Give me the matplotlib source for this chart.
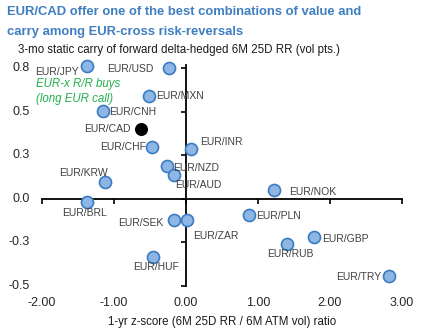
import matplotlib
matplotlib.use("Agg")
import matplotlib.pyplot as plt
import matplotlib.transforms as mtransforms

plt.rcParams['font.family'] = ['Liberation Sans', 'DejaVu Sans']

# ---- data ----
pairs = ["EUR/JPY", "EUR/USD", "EUR/MXN", "EUR/CNH", "EUR/CHF", "EUR/INR",
         "EUR/NZD", "EUR/AUD", "EUR/KRW", "EUR/BRL", "EUR/SEK", "EUR/ZAR",
         "EUR/HUF", "EUR/NOK", "EUR/PLN", "EUR/GBP", "EUR/RUB", "EUR/TRY"]
zscore = [-1.37, -0.235, -0.51, -1.145, -0.467, 0.079,
          -0.26, -0.166, -1.12, -1.375, -0.166, 0.018,
          -0.46, 1.223, 0.873, 1.777, 1.403, 2.825]
carry = [0.764, 0.755, 0.594, 0.506, 0.30, 0.29,
         0.19, 0.138, 0.10, -0.019, -0.119, -0.119,
         -0.333, 0.052, -0.09, -0.22, -0.26, -0.443]
highlight_pair = "EUR/CAD"
highlight_x = -0.62
highlight_y = 0.40

xticks = [-2, -1, 0, 1, 2, 3]
xtick_labels = ["-2.00", "-1.00", "0.00", "1.00", "2.00", "3.00"]
yticks = [0.75, 0.5, 0.25, 0.0, -0.25, -0.5]
ytick_labels = ["0.8", "0.5", "0.3", "0.0", "-0.3", "-0.5"]

title_lines = ["EUR/CAD offer one of the best combinations of value and",
               "carry among EUR-cross risk-reversals"]
subtitle = "3-mo static carry of forward delta-hedged 6M 25D RR (vol pts.)"
xlabel = "1-yr z-score (6M 25D RR / 6M ATM vol) ratio"
note = "EUR-x R/R buys\n(long EUR call)"

# ---- label placement (offset pixels, ha) ----
label_pos = {
    "EUR/JPY": (-8, -5.7, "right"), "EUR/USD": (-15.7, -1.6, "right"),
    "EUR/MXN": (7.4, 0, "left"), "EUR/CNH": (5.5, -0.7, "left"),
    "EUR/CHF": (-5.6, -0.6, "right"), "EUR/INR": (9, 6.6, "left"),
    "EUR/NZD": (6, -1.6, "left"), "EUR/AUD": (1, -10, "left"),
    "EUR/KRW": (3, 9, "right"), "EUR/BRL": (-1.7, -11, "center"),
    "EUR/SEK": (-10, -3.6, "right"), "EUR/ZAR": (5.7, -16, "left"),
    "EUR/HUF": (3, -10.3, "center"), "EUR/NOK": (15.7, -2, "left"),
    "EUR/PLN": (7.7, -1, "left"), "EUR/GBP": (8.4, -1.7, "left"),
    "EUR/RUB": (3, -10, "center"), "EUR/TRY": (-8, -0.7, "right"),
}

W, H = 437, 335
fig = plt.figure(figsize=(W / 100, H / 100), dpi=100)
ax = fig.add_axes([41.6 / W, 1 - 286 / H, (402 - 41.6) / W, (286 - 65) / H])
ax.set_xlim(-2, 3)
ax.set_ylim(-0.5, 0.77)

for s in ["top", "right"]:
    ax.spines[s].set_visible(False)
ax.spines["left"].set_position(("data", 0))
ax.spines["bottom"].set_position(("data", 0))
for s in ["left", "bottom"]:
    ax.spines[s].set_linewidth(1.3)
    ax.spines[s].set_color("black")
ax.set_xticks(xticks)
ax.set_yticks(yticks)
ax.tick_params(axis="both", direction="out", length=3.5, width=1.2,
               labelleft=False, labelbottom=False, color="black")

ax.scatter(zscore, carry, s=75, facecolor="#8DB6E4", edgecolor="#3B7CC2",
           linewidth=1.2, zorder=3, clip_on=False)
ax.scatter([highlight_x], [highlight_y], s=70, color="black", zorder=3)

lab_color = "#404040"
for name, x, y in zip(pairs, zscore, carry):
    dx, dy, ha = label_pos[name]
    ax.annotate(name, (x, y), xytext=(dx, dy), textcoords="offset pixels",
                ha=ha, va="center", fontsize=7.5, color=lab_color)
ax.annotate(highlight_pair, (highlight_x, highlight_y), xytext=(-10.3, 0.3),
            textcoords="offset pixels", ha="right", va="center",
            fontsize=7.5, color=lab_color)

# tick labels placed at the frame edges
ty = mtransforms.blended_transform_factory(fig.transFigure, ax.transData)
for v, t in zip(yticks, ytick_labels):
    fig.text(30 / W, v, t, transform=ty, ha="right", va="center",
             fontsize=9, color="#262626")
tx = mtransforms.blended_transform_factory(ax.transData, fig.transFigure)
for v, t in zip(xticks, xtick_labels):
    fig.text(v, 1 - 302.5 / H, t, transform=tx, ha="center",
             va="center", fontsize=9, color="#262626")

fig.text(7 / W, 1 - 12 / H, title_lines[0], ha="left", va="center",
         fontsize=9.4, fontweight="bold", color="#3F7EC1")
fig.text(7 / W, 1 - 32 / H, title_lines[1], ha="left", va="center",
         fontsize=9.4, fontweight="bold", color="#3F7EC1")
fig.text(18 / W, 1 - 50 / H, subtitle, ha="left", va="center",
         fontsize=8.3, color="#1a1a1a")
fig.text(222 / W, 1 - 322 / H, xlabel, ha="center", va="center",
         fontsize=8.3, color="#1a1a1a")
fig.text(36 / W, 1 - 91.5 / H, note, ha="left", va="center",
         fontsize=8.3, style="italic", color="#21B04B", linespacing=1.25)

fig.savefig("out.png", dpi=100)
